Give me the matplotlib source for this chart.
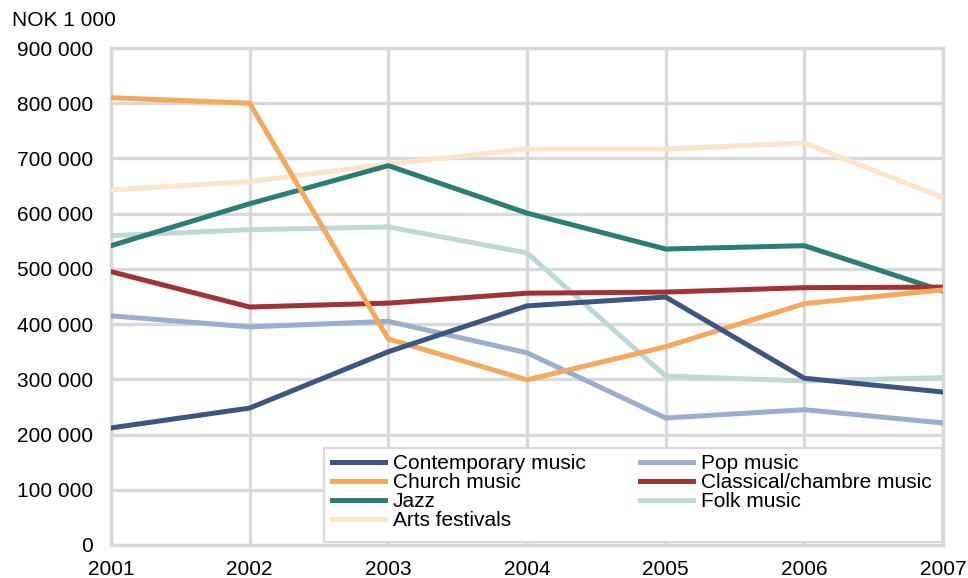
import matplotlib
matplotlib.use("Agg")
import matplotlib.pyplot as plt
from matplotlib.ticker import FuncFormatter
from matplotlib.patches import Rectangle

years = [2001, 2002, 2003, 2004, 2005, 2006, 2007]
contemporary = [212000, 248000, 350000, 433000, 449000, 302000, 277000]
pop = [415000, 395000, 405000, 348000, 230000, 245000, 221000]
church = [810000, 800000, 373000, 299000, 359000, 437000, 462000]
classical = [495000, 431000, 438000, 456000, 458000, 466000, 467000]
jazz = [542000, 618000, 687000, 601000, 536000, 542000, 460000]
folk = [560000, 571000, 576000, 529000, 306000, 297000, 303000]
arts = [643000, 658000, 690000, 717000, 717000, 728000, 629000]

series = [
    ("Contemporary music", contemporary, "#3C5684"),
    ("Church music", church, "#F6A85C"),
    ("Jazz", jazz, "#2A7E78"),
    ("Arts festivals", arts, "#FEE4CB"),
    ("Pop music", pop, "#9AAED1"),
    ("Classical/chambre music", classical, "#A23235"),
    ("Folk music", folk, "#BDD8D7"),
]
draw_order = ["Arts festivals", "Folk music", "Jazz", "Classical/chambre music",
              "Pop music", "Church music", "Contemporary music"]

plt.rcParams['font.family'] = ['Liberation Sans', 'DejaVu Sans']
W, H = 968, 578
fig = plt.figure(figsize=(W/100, H/100), dpi=100)
x0, x1, y0, y1 = 111, 943, 48, 545
ax = fig.add_axes([x0/W, 1-y1/H, (x1-x0)/W, (y1-y0)/H])

handles = {}
for name, vals, col in series:
    z = 3 + draw_order.index(name)
    h, = ax.plot(years, vals, color=col, lw=3.6, label=name, zorder=z,
                 solid_joinstyle='miter')
    handles[name] = h

ax.set_xlim(2001, 2007)
ax.set_ylim(0, 900000)
ax.set_xticks(years)
ax.set_yticks(range(0, 900001, 100000))
ax.yaxis.set_major_formatter(FuncFormatter(lambda v, p: "0" if v == 0 else f"{int(v):,}".replace(",", " ")))
ax.grid(True, color="#D9D9D9", lw=2.4, zorder=0)
for s in ax.spines.values():
    s.set_color("#D9D9D9")
    s.set_linewidth(2.4)
ax.tick_params(length=0, labelsize=15, colors="black")
ax.tick_params(axis='x', pad=10.5)
ax.tick_params(axis='y', pad=13)

fig.text(12/W, 1-20/H, "NOK 1 000", fontsize=15, va='center', ha='left')

# legend frame
lx0, lx1, ly0, ly1 = 324, 942, 448, 542
rect = Rectangle((lx0/W, 1-ly1/H), (lx1-lx0)/W, (ly1-ly0)/H, transform=fig.transFigure,
                 facecolor='white', edgecolor='#D9D9D9', lw=1.5, zorder=19)
fig.patches.append(rect)

leg = fig.legend([handles[s[0]] for s in series], [s[0] for s in series],
                 ncol=2, loc='upper left', bbox_to_anchor=(332/W, 1-454/H),
                 fontsize=15, frameon=False, borderpad=0.0, labelspacing=0.0,
                 handlelength=2.55, handletextpad=0.38, columnspacing=2.6, borderaxespad=0)
leg.set_zorder(20)

fig.savefig("out.png", dpi=100)
